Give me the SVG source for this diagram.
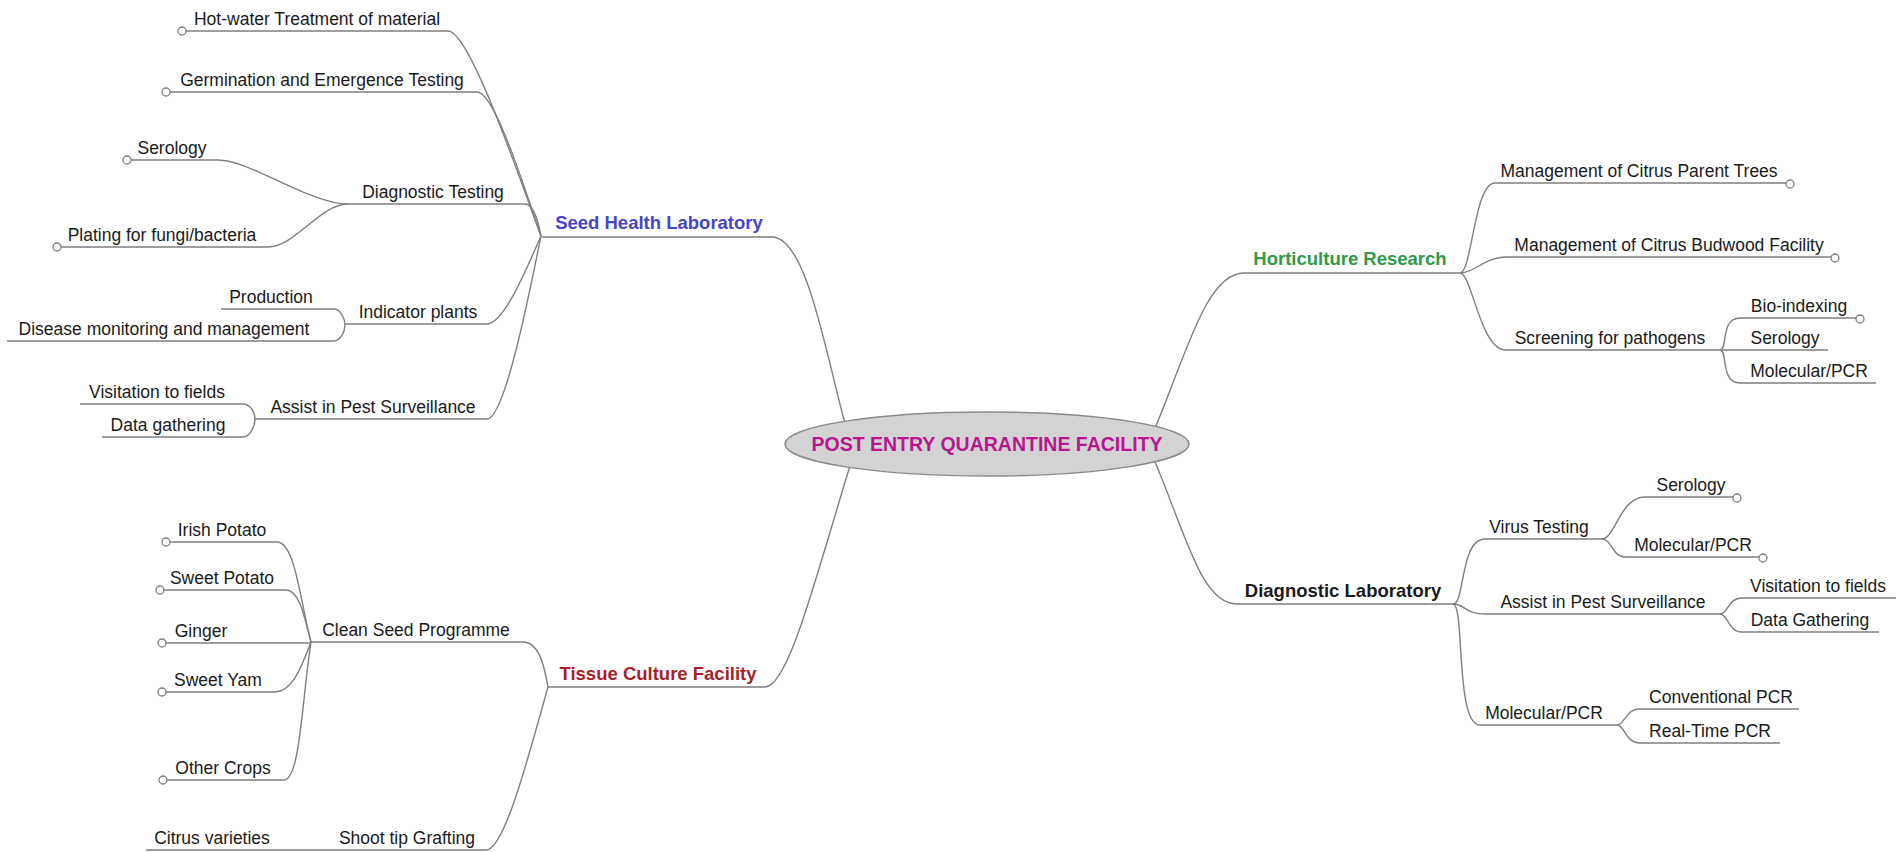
<svg xmlns="http://www.w3.org/2000/svg" width="1904" height="852" viewBox="0 0 1904 852">
<style>
.c{fill:none;stroke:#7f7f7f;stroke-width:1.4}
.t{font-family:"Liberation Sans",Arial,sans-serif;font-size:17.5px;fill:#1a1a1a;text-anchor:middle}
.h{font-family:"Liberation Sans",Arial,sans-serif;font-size:18.5px;font-weight:bold;text-anchor:middle}
.e{fill:#fff;stroke:#7f7f7f;stroke-width:1.3}
</style>
<rect width="1904" height="852" fill="#fff"/>
<g id="connectors">
<!-- center to main -->
<path class="c" d="M542 237 H772 C810 237 830 380 850 440"/>
<path class="c" d="M548 687 H765 C790 687 820 560 855 450"/>
<path class="c" d="M1150 440 C1185 360 1205 273 1244 273 H1460"/>
<path class="c" d="M1150 450 C1185 530 1200 604 1237 604 H1453"/>
<!-- seed health children -->
<path class="c" d="M186 31 H448 C470 31 520 180 541 236"/>
<path class="c" d="M170 92 H477 C495 92 525 190 541 236"/>
<path class="c" d="M348 204 H525 C533 204 538 220 541 236"/>
<path class="c" d="M345 324 H487 C505 324 530 260 541 236"/>
<path class="c" d="M255 419 H487 C505 419 530 290 541 236"/>
<path class="c" d="M131 160 H218 C250 160 310 204 348 204"/>
<path class="c" d="M61 247 H268 C295 247 320 204 348 204"/>
<path class="c" d="M221 309 H334 C340 309 345 318 345 325"/>
<path class="c" d="M7 341 H334 C340 341 345 332 345 325"/>
<path class="c" d="M80 404 H243 C250 404 255 412 255 419"/>
<path class="c" d="M102 437 H243 C250 437 255 426 255 419"/>
<!-- tissue children -->
<path class="c" d="M311 642 H523 C540 642 545 670 548 687"/>
<path class="c" d="M146 850 H486 C505 850 530 750 548 687"/>
<path class="c" d="M170 542 H277 C295 542 300 600 311 642"/>
<path class="c" d="M164 590 H286 C300 590 305 620 311 642"/>
<path class="c" d="M166 643 H311"/>
<path class="c" d="M166 692 H275 C293 692 302 665 311 642"/>
<path class="c" d="M167 780 H284 C300 780 302 700 311 642"/>
<!-- horticulture children -->
<path class="c" d="M1460 273 C1472 273 1474 183 1495 183 H1786"/>
<path class="c" d="M1460 273 C1475 273 1485 257 1506 257 H1831"/>
<path class="c" d="M1460 273 C1472 273 1480 350 1506 350 H1720"/>
<path class="c" d="M1720 350 C1728 350 1720 318 1740 318 H1856"/>
<path class="c" d="M1720 350 H1828"/>
<path class="c" d="M1720 350 C1728 350 1720 383 1740 383 H1876"/>
<!-- diagnostic children -->
<path class="c" d="M1453 604 C1465 604 1460 539 1485 539 H1602"/>
<path class="c" d="M1453 604 C1465 604 1465 614 1485 614 H1720"/>
<path class="c" d="M1453 604 C1465 604 1455 725 1480 725 H1617"/>
<path class="c" d="M1602 539 C1615 539 1620 497 1645 497 H1733"/>
<path class="c" d="M1602 539 C1612 539 1612 557 1625 557 H1759"/>
<path class="c" d="M1720 614 C1728 614 1728 598 1742 598 H1896"/>
<path class="c" d="M1720 614 C1728 614 1728 632 1742 632 H1879"/>
<path class="c" d="M1617 725 C1625 725 1625 709 1640 709 H1799"/>
<path class="c" d="M1617 725 C1625 725 1625 743 1640 743 H1780"/>
</g>
<g id="center">
<ellipse cx="987" cy="444" rx="202" ry="32" fill="#d3d3d3" stroke="#8a8a8a" stroke-width="1.5"/>
<text x="987" y="451" font-family="Liberation Sans,Arial,sans-serif" font-size="19.5" font-weight="bold" fill="#b8168e" text-anchor="middle">POST ENTRY QUARANTINE FACILITY</text>
</g>
<g id="seed-health"><text class="h" x="659" y="229" fill="#4646c4">Seed Health Laboratory</text></g>
<g id="hot-water"><circle class="e" cx="182" cy="31" r="4"/><text class="t" x="317" y="25">Hot-water Treatment of material</text></g>
<g id="germination"><circle class="e" cx="166" cy="92" r="4"/><text class="t" x="322" y="86">Germination and Emergence Testing</text></g>
<g id="diagnostic-testing"><text class="t" x="433" y="198">Diagnostic Testing</text></g>
<g id="serology-1"><circle class="e" cx="127" cy="160" r="4"/><text class="t" x="172" y="154">Serology</text></g>
<g id="plating"><circle class="e" cx="57" cy="247" r="4"/><text class="t" x="162" y="241">Plating for fungi/bacteria</text></g>
<g id="indicator"><text class="t" x="418" y="318">Indicator plants</text></g>
<g id="production"><text class="t" x="271" y="303">Production</text></g>
<g id="disease"><text class="t" x="164" y="335">Disease monitoring and management</text></g>
<g id="assist-1"><text class="t" x="373" y="413">Assist in Pest Surveillance</text></g>
<g id="visitation-1"><text class="t" x="157" y="398">Visitation to fields</text></g>
<g id="data-1"><text class="t" x="168" y="431">Data gathering</text></g>
<g id="tissue"><text class="h" x="658" y="680" fill="#a81f28">Tissue Culture Facility</text></g>
<g id="clean-seed"><text class="t" x="416" y="636">Clean Seed Programme</text></g>
<g id="irish"><circle class="e" cx="166" cy="542" r="4"/><text class="t" x="222" y="536">Irish Potato</text></g>
<g id="sweet-potato"><circle class="e" cx="160" cy="590" r="4"/><text class="t" x="222" y="584">Sweet Potato</text></g>
<g id="ginger"><circle class="e" cx="162" cy="643" r="4"/><text class="t" x="201" y="637">Ginger</text></g>
<g id="sweet-yam"><circle class="e" cx="162" cy="692" r="4"/><text class="t" x="218" y="686">Sweet Yam</text></g>
<g id="other"><circle class="e" cx="163" cy="780" r="4"/><text class="t" x="223" y="774">Other Crops</text></g>
<g id="shoot"><text class="t" x="407" y="844">Shoot tip Grafting</text></g>
<g id="citrus"><text class="t" x="212" y="844">Citrus varieties</text></g>
<g id="horticulture"><text class="h" x="1350" y="265" fill="#2f9a4a">Horticulture Research</text></g>
<g id="parent"><circle class="e" cx="1790" cy="184" r="4"/><text class="t" x="1639" y="177">Management of Citrus Parent Trees</text></g>
<g id="budwood"><circle class="e" cx="1835" cy="258" r="4"/><text class="t" x="1669" y="251">Management of Citrus Budwood Facility</text></g>
<g id="screening"><text class="t" x="1610" y="344">Screening for pathogens</text></g>
<g id="bio"><circle class="e" cx="1860" cy="319" r="4"/><text class="t" x="1799" y="312">Bio-indexing</text></g>
<g id="serology-2"><text class="t" x="1785" y="344">Serology</text></g>
<g id="molecular-1"><text class="t" x="1809" y="377">Molecular/PCR</text></g>
<g id="diagnostic-lab"><text class="h" x="1343" y="597" fill="#1a1a1a">Diagnostic Laboratory</text></g>
<g id="virus"><text class="t" x="1539" y="533">Virus Testing</text></g>
<g id="serology-3"><circle class="e" cx="1737" cy="498" r="4"/><text class="t" x="1691" y="491">Serology</text></g>
<g id="molecular-2"><circle class="e" cx="1763" cy="558" r="4"/><text class="t" x="1693" y="551">Molecular/PCR</text></g>
<g id="assist-2"><text class="t" x="1603" y="608">Assist in Pest Surveillance</text></g>
<g id="visitation-2"><text class="t" x="1818" y="592">Visitation to fields</text></g>
<g id="data-2"><text class="t" x="1810" y="626">Data Gathering</text></g>
<g id="molecular-3"><text class="t" x="1544" y="719">Molecular/PCR</text></g>
<g id="conventional"><text class="t" x="1721" y="703">Conventional PCR</text></g>
<g id="realtime"><text class="t" x="1710" y="737">Real-Time PCR</text></g>
</svg>
